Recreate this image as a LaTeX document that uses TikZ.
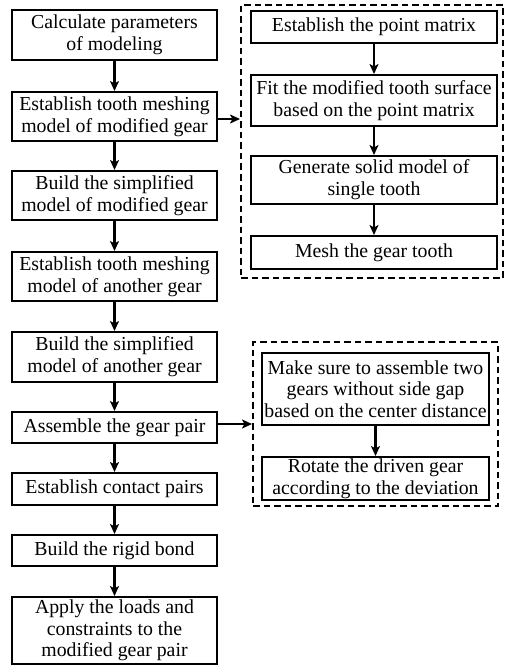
\documentclass[tikz,border=0pt]{standalone}
\usepackage{fontspec}
\setmainfont{Liberation Serif}
\usetikzlibrary{arrows.meta}
\begin{document}
\begin{tikzpicture}[x=1pt,y=-1pt,
  box/.style={draw,line width=2pt,align=center,inner sep=0pt,font=\fontsize{19.8}{21.7}\selectfont},
  dbox/.style={draw,line width=2pt,dash pattern=on 6.5pt off 4pt},
  arr/.style={line width=2.2pt,-{Stealth[length=10pt,width=9pt,inset=2.5pt]}}]
\useasboundingbox (0,0) rectangle (505,666);
% left column
\node[box,minimum width=205,minimum height=50] (b1) at (114.5,35) {Calculate parameters\\of modeling};
\node[box,minimum width=205,minimum height=49] (b2) at (114.5,116.5) {Establish tooth meshing\\model of modified gear};
\node[box,minimum width=205,minimum height=49] (b3) at (114.5,195.5) {Build the simplified\\model of modified gear};
\node[box,minimum width=205,minimum height=49] (b4) at (114.5,276.5) {Establish tooth meshing\\model of another gear};
\node[box,minimum width=205,minimum height=50] (b5) at (114.5,357) {Build the simplified\\model of another gear};
\node[box,minimum width=205,minimum height=31] (b6) at (114.5,427.5) {Assemble the gear pair};
\node[box,minimum width=205,minimum height=32] (b7) at (114.5,489) {Establish contact pairs};
\node[box,minimum width=205,minimum height=31] (b8) at (114.5,550.5) {Build the rigid bond};
\node[box,minimum width=205,minimum height=67] (b9) at (114.5,630.5) {Apply the loads and\\constraints to the\\modified gear pair};
\foreach \a/\b in {b1/b2,b2/b3,b3/b4,b4/b5,b5/b6,b6/b7,b7/b8,b8/b9}
  \draw[arr] (\a) -- (\b);
% right group 1
\node[dbox,minimum width=262,minimum height=273] (g1) at (372,141.5) {};
\node[box,minimum width=246,minimum height=32] (r1) at (374,27) {Establish the point matrix};
\node[box,minimum width=246,minimum height=51] (r2) at (374,100.5) {Fit the modified tooth surface\\based on the point matrix};
\node[box,minimum width=246,minimum height=48] (r3) at (374,180) {Generate solid model of\\single tooth};
\node[box,minimum width=246,minimum height=33] (r4) at (374,252.5) {Mesh the gear tooth};
\foreach \a/\b in {r1/r2,r2/r3,r3/r4}
  \draw[arr] (\a) -- (\b);
% right group 2
\node[dbox,minimum width=245,minimum height=164] (g2) at (375.5,424) {};
\node[box,minimum width=227,minimum height=72] (s1) at (375.5,389) {Make sure to assemble two\\gears without side gap\\based on the center distance};
\node[box,minimum width=227,minimum height=43] (s2) at (375.5,478.5) {Rotate the driven gear\\according to the deviation};
\draw[arr] (s1) -- (s2);
% links
\coordinate (c1) at (b2.east |- 0,119);
\draw[arr] (c1) -- (c1 -| g1.west);
\coordinate (c2) at (b6.east |- 0,424);
\draw[arr] (c2) -- (c2 -| g2.west);
\end{tikzpicture}
\end{document}
